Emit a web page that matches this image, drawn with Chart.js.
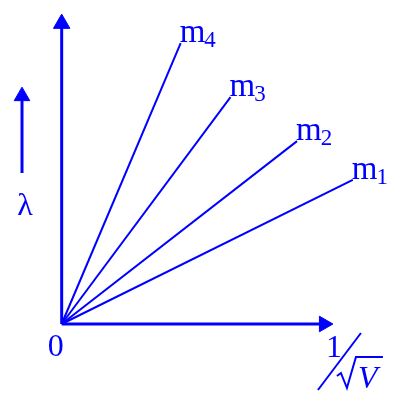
<!DOCTYPE html>
<html>
<head>
<meta charset="utf-8">
<script src="https://cdn.jsdelivr.net/npm/chart.js@4/dist/chart.umd.min.js"></script>
<style>
html,body{margin:0;padding:0;background:#fff}
#wrap{width:400px;height:405px}
</style>
</head>
<body>
<div id="wrap"><canvas id="c" width="400" height="405"></canvas></div>
<script>

// the four straight lines, lambda vs 1/sqrt(V), all through the origin
let names = ["m1","m2","m3","m4"]
let endX = [8.88, 7.18, 5.15, 3.63]
let endY = [4.65, 5.90, 7.32, 9.06]

// axes (arrow heads sit on the last point)
let xAxisEnd = 8.0
let yAxisEnd = 9.69

// the small lambda arrow on the left
let lamX = -1.21
let lamY = [4.87, 7.35]

let blue = "#0000ff"

let datasets = []

for(let i=0;i<names.length;i++){
datasets.push({
label:names[i],
data:[{x:0,y:0},{x:endX[i],y:endY[i]}],
borderColor:blue,
borderWidth:2,
pointRadius:0,
clip:false
})
}

// x axis
datasets.push({
label:"xaxis",
data:[{x:0,y:0},{x:xAxisEnd,y:0}],
borderColor:blue,
backgroundColor:blue,
borderWidth:3,
pointStyle:"triangle",
pointRadius:[0,9],
pointRotation:90,
pointBorderWidth:1,
pointBackgroundColor:blue,
pointBorderColor:blue,
clip:false
})

// y axis
datasets.push({
label:"yaxis",
data:[{x:0,y:0},{x:0,y:yAxisEnd}],
borderColor:blue,
borderWidth:3,
pointStyle:"triangle",
pointRadius:[0,9.5],
pointRotation:0,
pointBorderWidth:1,
pointBackgroundColor:blue,
pointBorderColor:blue,
clip:false
})

// lambda arrow
datasets.push({
label:"lambda",
data:[{x:lamX,y:lamY[0]},{x:lamX,y:lamY[1]}],
borderColor:blue,
borderWidth:3,
pointStyle:"triangle",
pointRadius:[0,9],
pointRotation:0,
pointBorderWidth:1,
pointBackgroundColor:blue,
pointBorderColor:blue,
clip:false
})

let textPlugin = {
id:"texts",
afterDatasetsDraw(chart){
let ctx = chart.ctx
let xs = chart.scales.x
let ys = chart.scales.y
ctx.save()
ctx.fillStyle = blue
ctx.strokeStyle = blue
ctx.textBaseline = "alphabetic"

// line labels m1..m4
for(let i=0;i<names.length;i++){
let px = xs.getPixelForValue(endX[i]) - 1
let py = ys.getPixelForValue(endY[i]) - 1
ctx.font = "33px 'Liberation Serif'"
ctx.textAlign = "left"
ctx.fillText(names[i].charAt(0), px, py)
let w = ctx.measureText(names[i].charAt(0)).width
ctx.font = "23px 'Liberation Serif'"
ctx.fillText(names[i].slice(1), px + w - 1, py + 5)
}

// origin
let ox = xs.getPixelForValue(0)
let oy = ys.getPixelForValue(0)
ctx.font = "32px 'Liberation Serif'"
ctx.textAlign = "right"
ctx.fillText("0", ox + 2, oy + 32)

// lambda
let lx = xs.getPixelForValue(lamX)
let ly = ys.getPixelForValue(lamY[0])
ctx.textAlign = "center"
ctx.fillText("λ", lx + 3, ly + 42)

// 1/sqrt(V) under the x arrow
let tx = xs.getPixelForValue(xAxisEnd) + 9
let ty = oy
ctx.textAlign = "left"
ctx.fillText("1", tx - 7, ty + 33)
ctx.lineWidth = 2
ctx.beginPath()
ctx.moveTo(tx - 15, ty + 66)
ctx.lineTo(tx + 28, ty + 9)
ctx.stroke()
ctx.beginPath()
ctx.moveTo(tx + 4, ty + 52)
ctx.lineTo(tx + 8, ty + 49)
ctx.lineTo(tx + 14, ty + 64)
ctx.lineTo(tx + 23, ty + 33)
ctx.lineTo(tx + 50, ty + 33)
ctx.stroke()
ctx.font = "italic 32px 'Liberation Serif'"
ctx.fillText("V", tx + 25, ty + 64)

ctx.restore()
}
}

new Chart(document.getElementById("c"),{
type:"line",
data:{datasets:datasets},
options:{
responsive:false,
animation:false,
events:[],
layout:{padding:{left:12.5,right:8,top:14,bottom:81}},
scales:{
x:{type:"linear",min:-1.5,max:10,display:false},
y:{type:"linear",min:0,max:10,display:false}
},
plugins:{legend:{display:false},tooltip:{enabled:false}}
},
plugins:[textPlugin]
})

</script>
</body>
</html>
